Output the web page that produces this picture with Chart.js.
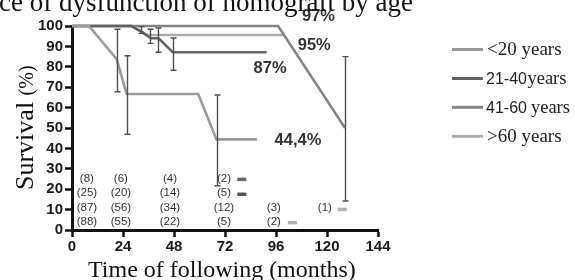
<!DOCTYPE html>
<html><head><meta charset="utf-8">
<script src="https://cdn.jsdelivr.net/npm/chart.js@4.4.0/dist/chart.umd.min.js"></script>
<style>html,body{margin:0;padding:0;background:#fff;}canvas{display:block;}</style>
</head><body>
<canvas id="c" width="575" height="280"></canvas>
<script>
// ---- data ----
const seriesNames = ['<20 years', '21-40years', '41-60 years', '>60 years'];
const seriesColors = ['#9a9a9a', '#626262', '#858585', '#ababab'];

const monthsU20 = [0, 8, 21, 25.7, 59.4, 68, 87];
const survU20   = [100, 100, 83.8, 66.7, 66.7, 44.4, 44.4];
const months2140 = [0, 28, 33.5, 37, 40.7, 47.5, 91.6];
const surv2140   = [100, 100, 96.7, 94, 94, 87.1, 87.1];
const months4160 = [0, 97, 128.5];
const surv4160   = [100, 100, 50];
const months60 = [0, 28, 33.5, 34.5, 99.5];
const surv60   = [100, 100, 96.8, 95.6, 95.6];

const errXU20 = [21, 26, 68.1], errLoU20 = [67.8, 46.9, 21.7], errHiU20 = [98.4, 85.4, 66.2];
const errX2140 = [36.7, 40.7, 47.7], errLo2140 = [91.5, 87.1, 78.3], errHi2140 = [98.4, 99, 94.1];
const errX4160 = [128.5], errLo4160 = [14.2], errHi4160 = [85];
const errX60 = [32.5], errLo60 = [96.4], errHi60 = [99.7];

const countX = [7, 23, 46.1, 71.5, 95, 119];
const countRowY = [25.3, 18.3, 11.1, 4.1];
const countsU20 = [8, 6, 4, 2];
const counts2140 = [25, 20, 14, 5];
const counts4160 = [87, 56, 34, 12, 3, 1];
const counts60 = [88, 55, 22, 5, 2];

const dashX = [79.9, 79.9, 127.2, 103.7];
const dashY = [24.8, 17.5, 10.1, 3.6];
const dashColors = ['#666666', '#555555', '#b0b0b0', '#b0b0b0'];

const pctLabels = ['97%', '95%', '87%', '44,4%'];
const pctX = [116, 114, 93.2, 106.35];
const pctY = [104.6, 90.7, 79.4, 44.1];

const xTicks = [0, 24, 48, 72, 96, 120, 144];
const yTicks = [0, 10, 20, 30, 40, 50, 60, 70, 80, 90, 100];

// ---- build ----
const toPts = (xs, ys) => xs.map((x, i) => ({x, y: ys[i]}));
const lineData = [[monthsU20, survU20], [months2140, surv2140], [months4160, surv4160], [months60, surv60]];
const errData = [[errXU20, errLoU20, errHiU20], [errX2140, errLo2140, errHi2140], [errX4160, errLo4160, errHi4160], [errX60, errLo60, errHi60]];
const countRows = [countsU20, counts2140, counts4160, counts60];

const datasets = lineData.map((d, i) => ({
  type: 'line', label: seriesNames[i], data: toPts(d[0], d[1]),
  borderColor: seriesColors[i], borderWidth: 2.6, pointRadius: 0, tension: 0, clip: false, fill: false
}));
datasets.push({
  type: 'scatter', label: 'marks', data: toPts(dashX, dashY),
  pointStyle: 'line', pointRadius: 4.5, borderWidth: 3.5,
  borderColor: dashColors, backgroundColor: dashColors, showLine: false, clip: false
});

const SANS = '"Liberation Sans", Arial, sans-serif';
const SERIF = '"Liberation Serif", "Times New Roman", serif';

const extras = {
  id: 'extras',
  afterDatasetsDraw(chart) {
    const ctx = chart.ctx, xs = chart.scales.x, ys = chart.scales.y;
    ctx.save();
    // error bars
    ctx.strokeStyle = '#505050'; ctx.lineWidth = 1.4;
    errData.forEach(e => {
      e[0].forEach((m, i) => {
        const px = Math.round(xs.getPixelForValue(m)) + 0.5;
        const y1 = ys.getPixelForValue(e[1][i]), y2 = ys.getPixelForValue(e[2][i]);
        ctx.beginPath();
        ctx.moveTo(px, y1); ctx.lineTo(px, y2);
        ctx.moveTo(px - 3, y1); ctx.lineTo(px + 3, y1);
        ctx.moveTo(px - 3, y2); ctx.lineTo(px + 3, y2);
        ctx.stroke();
      });
    });
    // number at risk
    ctx.fillStyle = '#333'; ctx.font = '11.5px ' + SANS;
    ctx.textAlign = 'center'; ctx.textBaseline = 'middle';
    countRows.forEach((row, r) => {
      row.forEach((v, i) => {
        ctx.fillText('(' + v + ')', xs.getPixelForValue(countX[i]), ys.getPixelForValue(countRowY[r]));
      });
    });
    // percentage labels
    ctx.fillStyle = '#333'; ctx.font = 'bold 16.5px ' + SANS;
    pctLabels.forEach((t, i) => ctx.fillText(t, xs.getPixelForValue(pctX[i]), ys.getPixelForValue(pctY[i])));
    ctx.restore();
  },
  afterDraw(chart) {
    const ctx = chart.ctx;
    ctx.save();
    ctx.fillStyle = '#111';
    // clipped title
    ctx.font = '27px ' + SERIF; ctx.textAlign = 'left'; ctx.textBaseline = 'alphabetic';
    ctx.fillText('ce of dysfunction of homograft by age', -1, 11);
    // x title
    ctx.font = '24px ' + SERIF;
    ctx.fillText('Time of following (months)', 88, 277);
    // y title
    ctx.save();
    ctx.translate(33, 190); ctx.rotate(-Math.PI / 2);
    ctx.font = '26px ' + SERIF;
    ctx.fillText('Survival', 0, 0);
    const w = ctx.measureText('Survival ').width;
    ctx.font = '20px ' + SERIF;
    ctx.fillText('(%)', w, 0);
    ctx.restore();
    // legend
    const ly = [49.5, 78.5, 107.3, 136.3];
    seriesNames.forEach((n, i) => {
      ctx.strokeStyle = seriesColors[i]; ctx.lineWidth = 3;
      ctx.beginPath(); ctx.moveTo(452, ly[i]); ctx.lineTo(483, ly[i]); ctx.stroke();
      ctx.fillStyle = '#222'; ctx.textBaseline = 'alphabetic';
      const base = ly[i] + 5.5;
      const m = n.match(/^(\d+-\d+)(\s?)(years)$/);
      if (m) {
        ctx.font = '16px ' + SANS;
        ctx.fillText(m[1], 486, base);
        let x = 486 + ctx.measureText(m[1]).width + (m[2] ? 4 : 0.5);
        ctx.font = '18.5px ' + SERIF;
        ctx.fillText(m[3], x, base);
      } else {
        ctx.font = '19px ' + SERIF;
        ctx.fillText(n, 487, base);
      }
    });
    ctx.restore();
  }
};

new Chart(document.getElementById('c'), {
  data: { datasets },
  options: {
    responsive: false, devicePixelRatio: 1, animation: false,
    layout: { padding: { left: 0, right: 197, top: 26, bottom: 0 } },
    plugins: { legend: { display: false }, tooltip: { enabled: false }, title: { display: false } },
    scales: {
      x: {
        type: 'linear', min: 0, max: 144,
        afterFit: s => { s.height = 50; },
        afterBuildTicks: s => { s.ticks = xTicks.map(v => ({value: v})); },
        ticks: { autoSkip: false, color: '#1a1a1a', font: { family: SANS, weight: 'bold', size: 15 }, padding: 1, maxRotation: 0 },
        grid: { drawOnChartArea: false, drawTicks: true, tickLength: 7, tickWidth: 2.5, tickColor: '#111' },
        border: { display: true, color: '#111', width: 3 }
      },
      y: {
        type: 'linear', min: 0, max: 100,
        afterFit: s => { s.width = 72; },
        afterBuildTicks: s => { s.ticks = yTicks.map(v => ({value: v})); },
        ticks: { autoSkip: false, color: '#1a1a1a', font: { family: SANS, weight: 'bold', size: 15 }, padding: 2 },
        grid: { drawOnChartArea: false, drawTicks: true, tickLength: 7, tickWidth: 2.5, tickColor: '#111' },
        border: { display: true, color: '#111', width: 3 }
      }
    }
  },
  plugins: [extras]
});
</script>
</body></html>
